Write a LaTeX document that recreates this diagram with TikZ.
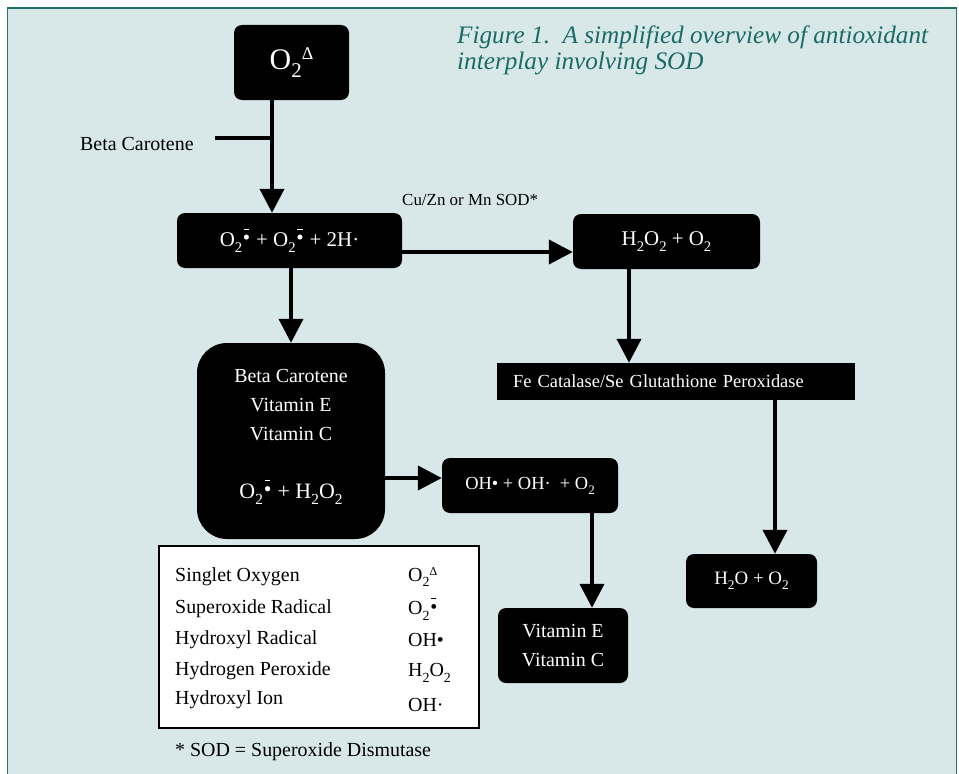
\documentclass[tikz,border=0pt]{standalone}
\usepackage{fontspec}
\usepackage{graphicx}
\setmainfont{Liberation Serif}
\usetikzlibrary{arrows.meta}
\definecolor{bgteal}{HTML}{D8E8E8}
\definecolor{borderteal}{HTML}{1E706B}
\definecolor{titleteal}{HTML}{1A6B66}
\newcommand\ranion{\leavevmode\rlap{\hbox to 0.42em{\hss\raisebox{0.80em}{\rule{0.26em}{0.05em}}\hss}}\hbox to 0.42em{\hss\raisebox{0.08em}{•}\hss}}
\newcommand\sub[1]{\raisebox{-0.6ex}{\scalebox{0.7}{#1}}}
\newcommand\supd{\raisebox{0.32em}{\scalebox{0.6}{Δ}}}
\tikzset{
  blk/.style={fill=black, text=white, rounded corners=8bp, inner sep=0pt, align=center},
  conn/.style={line width=4bp, draw=black, -{Triangle[length=24bp,width=24bp]}},
  plainline/.style={line width=4bp, draw=black},
  lbl/.style={inner sep=0pt, anchor=west, font=\fontsize{20}{24}\selectfont},
  ttl/.style={inner sep=0pt, anchor=west, text=titleteal, font=\fontsize{25.3}{28}\selectfont\itshape},
}
\begin{document}
\begin{tikzpicture}[x=1bp,y=-1bp]
\useasboundingbox (0,0) rectangle (959,774);
\fill[white] (0,0) rectangle (959,774);
\fill[bgteal] (7,8) rectangle (956,774);
\draw[borderteal, line width=1bp] (7,774) -- (7,8) -- (956,8) -- (956,774);
\draw[borderteal, line width=2bp] (7,8) -- (956,8);

% title
\node[ttl] (t1) at (457,37) {Figure 1.\ \ A simplified overview of antioxidant};
\node[ttl] (t2) at (457,63) {interplay involving SOD};

% boxes
\node[blk, minimum width=115bp, minimum height=75bp, font=\fontsize{30}{34}\selectfont] (o2d) at (291.5,62.5) {O\sub{2}\supd};
\node[blk, minimum width=225bp, minimum height=55bp, font=\fontsize{21}{24}\selectfont] (sup) at (289.5,240.5) {O\sub{2}\ranion{} + O\sub{2}\ranion{} + 2H·};
\node[blk, minimum width=187bp, minimum height=55bp, font=\fontsize{21}{24}\selectfont] (h2o2) at (666.5,241.5) {H\sub{2}O\sub{2} + O\sub{2}};
\node[blk, rounded corners=30bp, minimum width=188bp, minimum height=196bp] (big) at (291,441) {};
\node[inner sep=0pt, text=white, align=center, font=\fontsize{20}{29}\selectfont] (bigtxt) at (291,437) {Beta Carotene\\Vitamin E\\Vitamin C\\[29bp]{\fontsize{22}{24}\selectfont O\sub{2}\ranion{} + H\sub{2}O\sub{2}}};
\node[fill=black, text=white, inner ysep=0pt, inner xsep=16bp, text width=326bp, align=left, minimum height=37bp, font=\fontsize{18.5}{22}\selectfont] (fe) at (676,381.5) {Fe Catalase/Se Glutathione Peroxidase};
\node[blk, minimum width=176bp, minimum height=55bp, font=\fontsize{18.5}{22}\selectfont] (oh) at (530,485.5) {OH• + OH·\ \ + O\sub{2}};
\node[blk, minimum width=131bp, minimum height=54bp, font=\fontsize{19}{22}\selectfont] (h2o) at (751.5,581) {H\sub{2}O + O\sub{2}};
\node[blk, minimum width=130bp, minimum height=75bp, font=\fontsize{20}{29}\selectfont] (vit) at (563,645.5) {Vitamin E\\Vitamin C};

% labels
\node[lbl] (bclab) at (80,144) {Beta Carotene};
\node[lbl, font=\fontsize{17}{20}\selectfont] (culab) at (402,200) {Cu/Zn or Mn SOD*};

% connector anchors
\coordinate (c1) at (272,0);
\coordinate (bcbar) at (215,138);
\coordinate (c2) at (0,252);
\coordinate (c3) at (629,0);
\coordinate (c4) at (775,0);
\coordinate (c5) at (0,478);
\coordinate (c6) at (592,0);

\draw[conn] (o2d.south -| c1) -- (sup.north -| c1);
\draw[plainline] (bcbar) -- (bcbar -| c1);
\draw[conn] (sup.east |- c2) -- (h2o2.west |- c2);
\draw[conn] (sup.south -| big.north) -- (big.north);
\draw[conn] (h2o2.south -| c3) -- (fe.north -| c3);
\draw[conn] (fe.south -| c4) -- (h2o.north -| c4);
\draw[conn] (big.east |- c5) -- (oh.west |- c5);
\draw[conn] (oh.south -| c6) -- (vit.north -| c6);

% legend
\node[draw=black, line width=1.5bp, fill=white, minimum width=320bp, minimum height=182bp, inner sep=0pt] (legend) at (319,637) {};
\node[lbl] (l1) at (175,577) {Singlet Oxygen};
\node[lbl] (l2) at (175,609) {Superoxide Radical};
\node[lbl] (l3) at (175,640) {Hydroxyl Radical};
\node[lbl] (l4) at (175,671) {Hydrogen Peroxide};
\node[lbl] (l5) at (175,700) {Hydroxyl Ion};
\node[lbl] (r1) at (408,577) {O\sub{2}\supd};
\node[lbl] (r2) at (408,609) {O\sub{2}\ranion};
\node[lbl] (r3) at (408,640) {OH•};
\node[lbl] (r4) at (408,673) {H\sub{2}O\sub{2}};
\node[lbl] (r5) at (408,705) {OH·};
\node[lbl] (foot) at (175,752) {* SOD = Superoxide Dismutase};
\end{tikzpicture}
\end{document}
